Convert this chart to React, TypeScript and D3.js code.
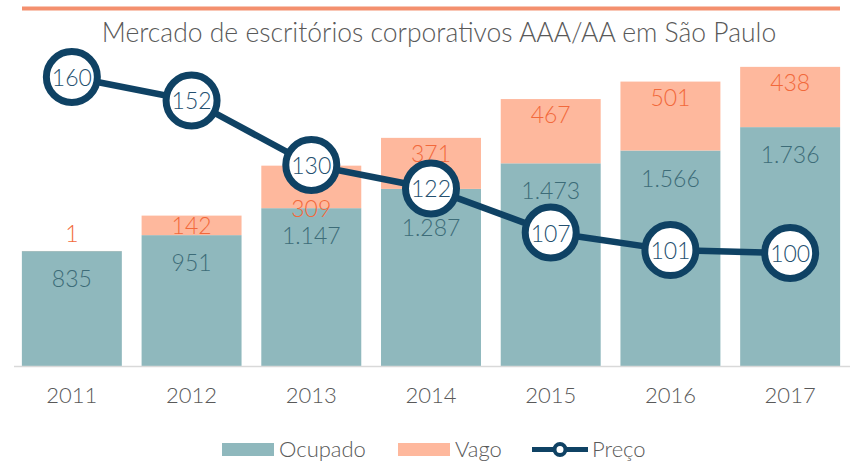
import React from "react";
import * as d3 from "d3";

const years = ["2011", "2012", "2013", "2014", "2015", "2016", "2017"];
const ocupado = [835, 951, 1147, 1287, 1473, 1566, 1736];
const vago = [1, 142, 309, 371, 467, 501, 438];
const preco = [160, 152, 130, 122, 107, 101, 100];
const vagoLabelNudge = [-18, 0, 27, 0, 0, 0, 0];
const ocupadoLabelNudge = [0, 0, 0, 11, 0, 0, 0];

const W = 852;
const H = 461;
const TEAL = "#8fb8bd";
const SALMON = "#feb89d";
const NAVY = "#0f4264";
const FONT = "Lato, 'Liberation Sans', sans-serif";

const fmt = (v: number) => (v >= 1000 ? d3.format(",")(v).replace(/,/g, ".") : String(v));

export default function App() {
  const x = d3.scaleBand<string>().domain(years).range([12, 850]).paddingInner(0.165).paddingOuter(0.0825);
  const y = d3.scaleLinear().domain([0, 2500]).range([366, 22]);
  const y2 = d3.scaleLinear().domain([61.5, 178.75]).range([366, 22]);
  const bw = x.bandwidth();
  const cx = (i: number) => (x(years[i]) as number) + bw / 2;
  const line = d3
    .line<number>()
    .x((_, i) => cx(i))
    .y((d) => y2(d));

  return (
    <div style={{ position: "fixed", left: 0, top: 0, width: W, height: H, overflow: "hidden" }}>
      <svg width={W} height={H} style={{ display: "block", background: "#fff" }} fontFamily={FONT}>
        <line x1={22} x2={840} y1={8.5} y2={8.5} stroke="#f4906e" strokeWidth={4} />
        <text x={439} y={42} textAnchor="middle" fontSize={26.5} fontWeight={300} fill="#595959">
          Mercado de escritórios corporativos AAA/AA em São Paulo
        </text>
        {years.map((yr, i) => {
          const x0 = x(yr) as number;
          const yOc = y(ocupado[i]);
          const yVa = y(ocupado[i] + vago[i]);
          const hVa = yOc - yVa;
          return (
            <g key={yr}>
              <rect x={x0} y={yOc} width={bw} height={y(0) - yOc} fill={TEAL} />
              <rect x={x0} y={yVa} width={bw} height={hVa} fill={SALMON} />
            </g>
          );
        })}
        <line x1={14} x2={850} y1={366.5} y2={366.5} stroke="#d9d9d9" strokeWidth={1.5} />
        {years.map((yr, i) => {
          const yOc = y(ocupado[i]);
          const yVa = y(ocupado[i] + vago[i]);
          const hVa = yOc - yVa;
          return (
            <g key={"l" + yr} fontSize={23} fontWeight={300} textAnchor="middle" dominantBaseline="central">
              <text x={cx(i)} y={yOc + 27 + ocupadoLabelNudge[i]} fill="#3d6c78">
                {fmt(ocupado[i])}
              </text>
              <text x={cx(i)} y={yVa + Math.min(15, hVa / 2) + vagoLabelNudge[i]} fill="#f2693b">
                {fmt(vago[i])}
              </text>
            </g>
          );
        })}
        <path d={line(preco) as string} fill="none" stroke={NAVY} strokeWidth={6.5} />
        {preco.map((v, i) => (
          <g key={"p" + i}>
            <circle cx={cx(i)} cy={y2(v)} r={25.5} fill="#fff" stroke={NAVY} strokeWidth={7} />
            <text
              x={cx(i)}
              y={y2(v)}
              textAnchor="middle"
              dominantBaseline="central"
              fontSize={23}
              fontWeight={300}
              fill="#24506f"
            >
              {v}
            </text>
          </g>
        ))}
        {years.map((yr, i) => (
          <text key={"x" + yr} x={cx(i)} y={403} textAnchor="middle" fontSize={22} fontWeight={300} fill="#595959">
            {yr}
          </text>
        ))}
        <g fontSize={22} fontWeight={300} fill="#595959">
          <rect x={222} y={443} width={52} height={13} fill={TEAL} />
          <text x={279} y={457}>Ocupado</text>
          <rect x={398} y={443} width={52} height={13} fill={SALMON} />
          <text x={455} y={457}>Vago</text>
          <line x1={532} x2={588} y1={449.5} y2={449.5} stroke={NAVY} strokeWidth={5} />
          <circle cx={560} cy={449.5} r={5.5} fill="#fff" stroke={NAVY} strokeWidth={4} />
          <text x={592} y={457}>Preço</text>
        </g>
      </svg>
    </div>
  );
}
